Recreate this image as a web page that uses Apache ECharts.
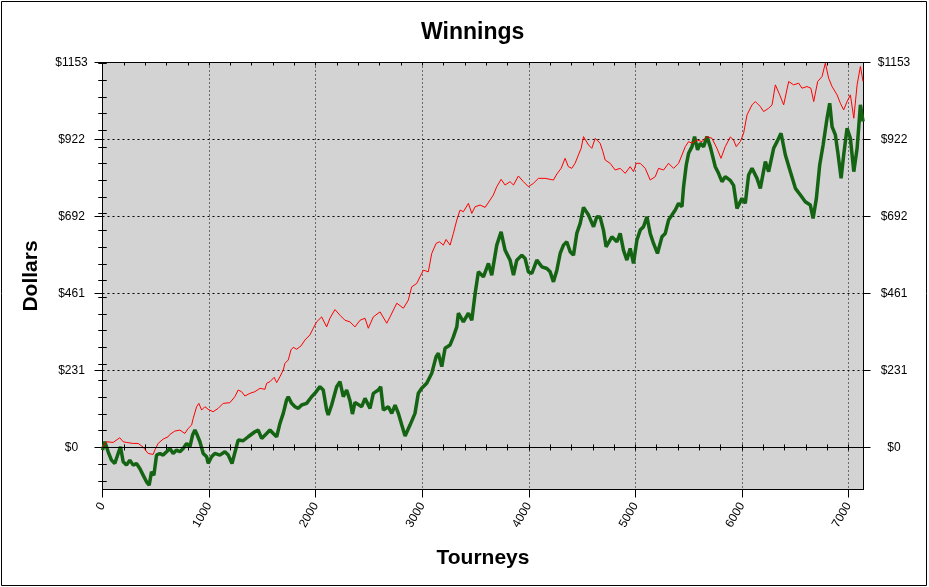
<!DOCTYPE html>
<html><head><meta charset="utf-8">
<script src="https://cdn.jsdelivr.net/npm/echarts@6/dist/echarts.min.js"></script>
<style>html,body{margin:0;padding:0;background:#fff}#c{width:929px;height:587px}</style>
</head><body><div id="c"></div>
<script>
const titleText = 'Winnings';
const xName = 'Tourneys';
const yName = 'Dollars';
const xTicks = [0, 1000, 2000, 3000, 4000, 5000, 6000, 7000];
const xTickLabels = ['0', '1000', '2000', '3000', '4000', '5000', '6000', '7000'];
const xMinorTicks = [0, 200, 400, 600, 800, 1000, 1200, 1400, 1600, 1800, 2000, 2200, 2400, 2600, 2800, 3000, 3200, 3400, 3600, 3800, 4000, 4200, 4400, 4600, 4800, 5000, 5200, 5400, 5600, 5800, 6000, 6200, 6400, 6600, 6800, 7000];
const yTicks = [0, 230.6, 461.2, 691.8, 922.4, 1153];
const yTickLabels = ['$0', '$231', '$461', '$692', '$922', '$1153'];
const yMinorTicks = [-100, -50, 0, 50, 100, 150, 200, 250, 300, 350, 400, 450, 500, 550, 600, 650, 700, 750, 800, 850, 900, 950, 1000, 1050, 1100, 1150];

// [tourney, dollars]
const redData = [[0,0],[38,17],[100,15],[162,29],[194,17],[225,15],[288,12],[335,12],[381,1],[428,-18],[475,-21],[491,-8],[522,12],[569,25],[616,32],[632,39],[679,49],[726,52],[773,42],[804,57],[836,67],[851,87],[883,122],[904,132],[930,112],[961,122],[992,114],[1038,107],[1085,117],[1132,132],[1195,134],[1242,152],[1273,172],[1305,167],[1336,154],[1383,162],[1430,167],[1477,177],[1524,174],[1540,192],[1571,197],[1611,210],[1634,194],[1665,212],[1696,232],[1712,252],[1743,262],[1768,292],[1790,300],[1821,294],[1862,304],[1900,322],[1946,337],[1978,357],[2009,376],[2056,391],[2103,361],[2134,387],[2181,413],[2228,396],[2275,381],[2322,376],[2369,361],[2416,381],[2463,387],[2494,357],[2541,391],[2604,406],[2667,372],[2698,391],[2761,432],[2823,417],[2869,441],[2901,481],[2948,491],[2979,511],[3011,531],[3057,526],[3089,581],[3130,611],[3161,616],[3198,606],[3224,623],[3261,606],[3292,641],[3324,681],[3355,711],[3386,706],[3433,731],[3465,701],[3496,721],[3543,726],[3590,719],[3636,741],[3667,756],[3699,781],[3740,803],[3777,786],[3824,796],[3856,786],[3902,813],[3949,796],[3996,781],[4043,791],[4090,806],[4153,806],[4200,803],[4231,801],[4263,819],[4303,836],[4340,866],[4371,841],[4403,836],[4434,851],[4465,876],[4491,896],[4513,931],[4560,906],[4591,896],[4623,926],[4669,911],[4695,886],[4716,861],[4763,851],[4810,831],[4857,836],[4904,821],[4951,841],[4982,826],[5008,851],[5045,851],[5092,836],[5139,801],[5186,811],[5217,836],[5264,831],[5311,851],[5358,836],[5405,851],[5437,876],[5468,901],[5499,916],[5531,911],[5578,921],[5624,916],[5671,931],[5718,926],[5765,896],[5803,866],[5843,901],[5890,930],[5921,921],[5946,901],[5984,916],[6015,941],[6047,996],[6094,1026],[6125,1036],[6172,1021],[6203,1006],[6250,1016],[6282,1026],[6313,1086],[6354,1056],[6391,1026],[6438,1096],[6485,1086],[6532,1091],[6563,1076],[6610,1081],[6646,1076],[6673,1036],[6710,1096],[6751,1111],[6782,1151],[6813,1106],[6845,1081],[6892,1056],[6923,1031],[6954,1011],[6986,1036],[7017,1056],[7049,986],[7080,1086],[7111,1141],[7136,1096]];

const greenData = [[0,-8],[22,17],[53,-13],[84,-38],[115,-48],[147,-18],[169,2],[194,-43],[225,-53],[256,-38],[288,-53],[319,-48],[350,-63],[381,-83],[413,-103],[438,-113],[460,-73],[482,-83],[507,-23],[538,-18],[569,-23],[601,-13],[632,-3],[663,-18],[695,-8],[726,-13],[757,-3],[789,12],[820,2],[845,37],[867,52],[889,37],[914,17],[945,-18],[977,-28],[992,-48],[1023,-28],[1054,-18],[1101,-23],[1148,-13],[1180,-23],[1215,-48],[1273,22],[1320,20],[1367,32],[1430,47],[1461,52],[1493,27],[1540,42],[1571,52],[1602,42],[1634,32],[1665,72],[1696,102],[1727,142],[1743,152],[1774,132],[1806,122],[1837,117],[1868,127],[1915,132],[1962,152],[1993,162],[2040,182],[2071,172],[2103,112],[2118,97],[2150,127],[2197,182],[2228,197],[2259,152],[2291,172],[2322,140],[2345,100],[2369,135],[2385,132],[2432,122],[2463,147],[2510,117],[2541,162],[2588,172],[2610,182],[2635,112],[2682,122],[2714,102],[2745,127],[2776,102],[2808,67],[2839,34],[2885,67],[2932,102],[2963,162],[2995,177],[3042,192],[3089,222],[3130,272],[3151,282],[3183,242],[3214,297],[3261,307],[3292,331],[3324,361],[3339,402],[3386,376],[3433,402],[3465,381],[3496,461],[3527,526],[3574,511],[3621,551],[3652,516],[3699,606],[3740,646],[3777,591],[3824,561],[3856,516],[3887,561],[3934,576],[3965,566],[3996,526],[4028,521],[4075,561],[4122,541],[4169,536],[4200,526],[4231,496],[4263,531],[4294,581],[4325,606],[4356,616],[4388,586],[4419,576],[4450,641],[4482,671],[4513,719],[4560,696],[4607,661],[4638,691],[4669,690],[4700,651],[4725,601],[4779,631],[4826,616],[4857,641],[4888,591],[4920,561],[4951,596],[4982,551],[5014,621],[5045,651],[5076,661],[5108,691],[5139,641],[5170,611],[5207,581],[5249,631],[5280,641],[5311,681],[5343,696],[5374,711],[5405,731],[5437,721],[5452,781],[5477,846],[5499,881],[5531,901],[5555,931],[5583,891],[5608,911],[5640,901],[5671,931],[5702,901],[5749,841],[5780,821],[5812,796],[5843,811],[5890,800],[5921,785],[5953,716],[6000,746],[6031,731],[6062,816],[6094,836],[6141,806],[6172,776],[6219,856],[6250,826],[6297,896],[6329,916],[6366,941],[6407,876],[6454,826],[6501,776],[6548,756],[6594,736],[6641,726],[6667,686],[6698,746],[6729,846],[6761,906],[6798,986],[6823,1031],[6845,961],[6876,936],[6898,886],[6930,806],[6954,876],[6986,956],[7017,926],[7049,826],[7080,896],[7111,1026],[7136,976]];

const FONT = '"Liberation Sans", Arial, sans-serif';
const X_MIN = 0, X_MAX = 7140, Y_MIN = -126, Y_MAX = 1153;
const BLACK = '#000';

function yLabel(v) {
  const i = yTicks.findIndex(t => Math.abs(t - v) < 0.05);
  return i >= 0 ? yTickLabels[i] : '';
}
function xLabel(v) {
  const i = xTicks.indexOf(Math.round(v));
  return i >= 0 ? xTickLabels[i] : '';
}
function baseX(o) {
  return Object.assign({type: 'value', min: X_MIN, max: X_MAX, axisLine: {show: false},
    axisTick: {show: false}, axisLabel: {show: false}, splitLine: {show: false}}, o);
}
function baseY(o) {
  return Object.assign({type: 'value', min: Y_MIN, max: Y_MAX, axisLine: {show: false},
    axisTick: {show: false}, axisLabel: {show: false}, splitLine: {show: false}}, o);
}

const chart = echarts.init(document.getElementById('c'));
chart.setOption({
  animation: false,
  backgroundColor: '#fff',
  title: {text: titleText, left: 416, top: 16,
    textStyle: {fontSize: 23, fontWeight: 'bold', color: BLACK, fontFamily: FONT}},
  graphic: [{type: 'rect', shape: {x: 1.5, y: 1.5, width: 925, height: 584},
    style: {fill: 'none', stroke: BLACK, lineWidth: 1}, silent: true}],
  grid: {left: 102.5, top: 62.5, width: 761, height: 427, show: true,
    backgroundColor: '#d3d3d3', borderColor: BLACK, borderWidth: 1, containLabel: false},
  xAxis: [
    baseX({position: 'bottom', axisLine: {show: true, onZero: false, lineStyle: {color: BLACK, width: 1}},
      axisTick: {show: true, customValues: xTicks, length: 8, lineStyle: {color: BLACK}},
      axisLabel: {show: true, customValues: xTicks, formatter: xLabel, rotate: 60, margin: 14, fontSize: 12,
        color: BLACK, fontFamily: FONT},
      splitLine: {show: true, lineStyle: {color: BLACK, width: 1, type: [1, 3]}},
      name: xName, nameLocation: 'middle', nameGap: 58,
      nameTextStyle: {fontSize: 21, fontWeight: 'bold', color: BLACK, fontFamily: FONT}}),
    baseX({position: 'bottom', axisTick: {show: true, customValues: xMinorTicks, length: 3, lineStyle: {color: BLACK}}}),
    baseX({position: 'bottom', axisTick: {show: true, inside: true, customValues: xMinorTicks, length: 3, lineStyle: {color: BLACK}}}),
    baseX({position: 'top', axisLine: {show: true, onZero: false, lineStyle: {color: BLACK}},
      axisTick: {show: true, inside: true, customValues: xMinorTicks, length: 3, lineStyle: {color: BLACK}}})
  ],
  yAxis: [
    baseY({position: 'left', axisLine: {show: true, onZero: false, lineStyle: {color: BLACK, width: 1}},
      axisTick: {show: true, customValues: yTicks, length: 8, lineStyle: {color: BLACK}},
      axisLabel: {show: true, customValues: yTicks, formatter: yLabel, align: 'center', margin: 31,
        fontSize: 12, color: BLACK, fontFamily: FONT},
      splitLine: {show: true, lineStyle: {color: BLACK, width: 1, type: [2, 3]}},
      name: yName, nameLocation: 'middle', nameGap: 61, nameRotate: 90,
      nameTextStyle: {fontSize: 21, fontWeight: 'bold', color: BLACK, fontFamily: FONT}}),
    baseY({position: 'left', axisTick: {show: true, customValues: yMinorTicks, length: 4, lineStyle: {color: BLACK}}}),
    baseY({position: 'left', axisTick: {show: true, inside: true, customValues: yMinorTicks, length: 4, lineStyle: {color: BLACK}}}),
    baseY({position: 'right', axisLine: {show: true, onZero: false, lineStyle: {color: BLACK}},
      axisTick: {show: true, customValues: yTicks, length: 7, lineStyle: {color: BLACK}},
      axisLabel: {show: true, customValues: yTicks, formatter: yLabel, align: 'center', margin: 30.5,
        fontSize: 12, color: BLACK, fontFamily: FONT}}),
    baseY({position: 'right', axisTick: {show: true, customValues: yMinorTicks, length: 4, lineStyle: {color: BLACK}}}),
    baseY({position: 'right', axisTick: {show: true, inside: true, customValues: yMinorTicks, length: 4, lineStyle: {color: BLACK}}})
  ],
  series: [
    {name: 'green', type: 'line', data: greenData, xAxisIndex: 0, yAxisIndex: 0,
      showSymbol: false, symbol: 'none', clip: true,
      lineStyle: {color: '#146414', width: 3.5}, z: 3,
      markLine: {silent: true, symbol: 'none', label: {show: false},
        lineStyle: {color: BLACK, type: 'solid', width: 1}, data: [{yAxis: 0}]}},
    {name: 'red', type: 'line', data: redData, xAxisIndex: 0, yAxisIndex: 0,
      showSymbol: false, symbol: 'none', clip: true,
      lineStyle: {color: '#ff0000', width: 1}, z: 4}
  ]
});
</script>
</body></html>
